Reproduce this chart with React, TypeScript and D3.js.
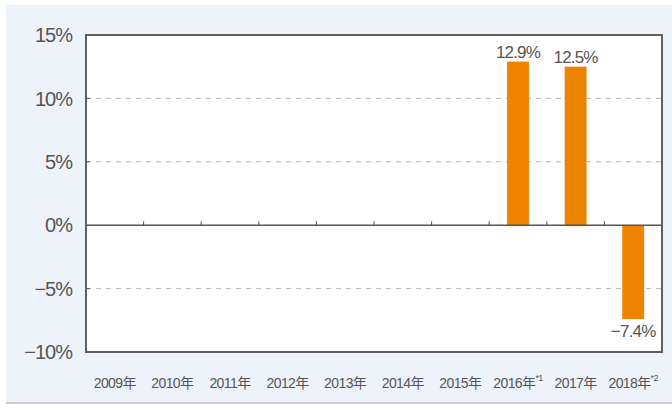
import React, { useEffect, useRef } from "react";
import * as d3 from "d3";

const years = ["2009", "2010", "2011", "2012", "2013", "2014", "2015", "2016", "2017", "2018"];
const notes = ["", "", "", "", "", "", "", "*1", "", "*2"];
const growth: (number | null)[] = [null, null, null, null, null, null, null, 12.9, 12.5, -7.4];
const yTicks = [15, 10, 5, 0, -5, -10];

const W = 672;
const H = 410;
const margin = { top: 35, right: 10, bottom: 58, left: 86 };
const textColor = "#555";
const barColor = "#ee8300";

function App() {
  const svgRef = useRef<SVGSVGElement>(null);

  useEffect(() => {
    const svg = d3.select(svgRef.current);
    svg.selectAll("*").remove();

    const x = d3
      .scaleBand()
      .domain(years)
      .range([margin.left, W - margin.right])
      .paddingInner(0.62)
      .paddingOuter(0.31);
    const y = d3
      .scaleLinear()
      .domain([-10, 15])
      .range([H - margin.bottom, margin.top]);

    // panel background
    svg.append("rect").attr("x", 0).attr("y", 0).attr("width", W).attr("height", H).attr("fill", "#fff");
    svg
      .append("rect")
      .attr("x", 6)
      .attr("y", 5)
      .attr("width", W - 6)
      .attr("height", 398)
      .attr("fill", "#eef3f9");
    svg
      .append("line")
      .attr("x1", 6)
      .attr("x2", W)
      .attr("y1", 403)
      .attr("y2", 403)
      .attr("stroke", "#c9cdd2")
      .attr("stroke-width", 2);

    const left = margin.left;
    const right = W - margin.right;
    svg
      .append("rect")
      .attr("x", left)
      .attr("y", y(15))
      .attr("width", right - left)
      .attr("height", y(-10) - y(15))
      .attr("fill", "#fff");

    // grid
    svg
      .append("g")
      .selectAll("line")
      .data(yTicks.filter((d) => d !== 0 && d !== 15 && d !== -10))
      .join("line")
      .attr("x1", left)
      .attr("x2", right)
      .attr("y1", (d) => y(d))
      .attr("y2", (d) => y(d))
      .attr("stroke", "#b5b5b5")
      .attr("stroke-dasharray", "5,5");

    // y labels
    svg
      .append("g")
      .selectAll("text")
      .data(yTicks)
      .join("text")
      .attr("x", 72)
      .attr("y", (d) => y(d))
      .attr("dy", "0.36em")
      .attr("text-anchor", "end")
      .attr("fill", textColor)
      .attr("font-size", 20)
      .attr("letter-spacing", -1)
      .text((d) => (d < 0 ? `\u2212${-d}%` : `${d}%`));

    // bars
    const withVal = years.map((yr, i) => ({ yr, v: growth[i] })).filter((d) => d.v !== null) as {
      yr: string;
      v: number;
    }[];
    svg
      .append("g")
      .selectAll("rect")
      .data(withVal)
      .join("rect")
      .attr("x", (d) => x(d.yr)!)
      .attr("width", x.bandwidth())
      .attr("y", (d) => y(Math.max(0, d.v)))
      .attr("height", (d) => Math.abs(y(d.v) - y(0)))
      .attr("fill", barColor);

    svg
      .append("g")
      .selectAll("text")
      .data(withVal)
      .join("text")
      .attr("x", (d) => x(d.yr)! + x.bandwidth() / 2)
      .attr("y", (d) => (d.v >= 0 ? y(d.v) - 4 : y(d.v) + 18))
      .attr("text-anchor", "middle")
      .attr("fill", textColor)
      .attr("font-size", 17)
      .attr("letter-spacing", -0.8)
      .text((d) => (d.v < 0 ? `\u2212${-d.v}%` : `${d.v}%`));

    // zero line and category ticks
    svg
      .append("line")
      .attr("x1", left)
      .attr("x2", right)
      .attr("y1", y(0))
      .attr("y2", y(0))
      .attr("stroke", "#555")
      .attr("stroke-width", 1.5);
    const step = x.step();
    svg
      .append("g")
      .selectAll("line")
      .data(years.slice(1))
      .join("line")
      .attr("x1", (d) => x(d)! - (step * 0.62) / 2)
      .attr("x2", (d) => x(d)! - (step * 0.62) / 2)
      .attr("y1", y(0))
      .attr("y2", y(0) - 4)
      .attr("stroke", "#555");

    // y small ticks
    svg
      .append("g")
      .selectAll("line")
      .data([10, 5, -5])
      .join("line")
      .attr("x1", left)
      .attr("x2", left + 4)
      .attr("y1", (d) => y(d))
      .attr("y2", (d) => y(d))
      .attr("stroke", "#555");

    // frame
    svg
      .append("rect")
      .attr("x", left)
      .attr("y", y(15))
      .attr("width", right - left)
      .attr("height", y(-10) - y(15))
      .attr("fill", "none")
      .attr("stroke", "#5f5f5f")
      .attr("stroke-width", 2);

    // x labels
    const xl = svg
      .append("g")
      .selectAll("text")
      .data(years)
      .join("text")
      .attr("x", (d) => x(d)! + x.bandwidth() / 2)
      .attr("y", 388)
      .attr("text-anchor", "middle")
      .attr("fill", textColor)
      .attr("font-size", 14)
      .attr("letter-spacing", -0.6);
    xl.append("tspan").text((d) => `${d}年`);
    xl.filter((d, i) => notes[i] !== "")
      .append("tspan")
      .attr("dy", -7)
      .attr("font-size", 9)
      .text((d) => notes[years.indexOf(d)]);
  }, []);

  return (
    <svg
      ref={svgRef}
      width={W}
      height={H}
      style={{ position: "absolute", left: 0, top: 0, fontFamily: "'Liberation Sans', 'Noto Sans CJK JP', sans-serif" }}
    />
  );
}

export default App;
